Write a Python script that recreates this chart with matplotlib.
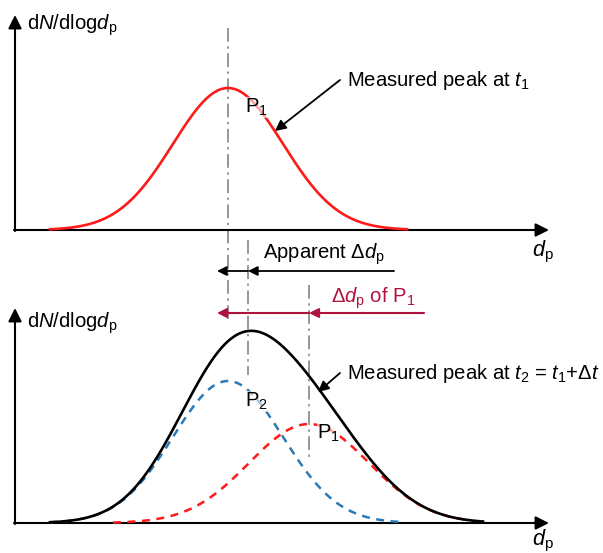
import numpy as np
import matplotlib.pyplot as plt

plt.rcParams['font.family'] = ['Liberation Sans', 'DejaVu Sans']
plt.rcParams['mathtext.fontset'] = 'custom'
plt.rcParams['mathtext.rm'] = 'Liberation Sans'
plt.rcParams['mathtext.it'] = 'Liberation Sans:italic'

# schematic peaks: centre, height, width (canvas units, y measured up from baseline)
p1_t1 = [228, 142, 55]
p2_t2 = [228, 142, 55]
p1_t2 = [309, 99, 60]

# d_p range over which each curve is drawn
p1_t1_range = [50, 407]
p2_t2_range = [50, 400]
p1_t2_range = [113, 470]
sum_range = [50, 483]

top_base = 230
bot_base = 523


def gauss(x, c, h, s):
    return h * np.exp(-(x - c) ** 2 / (2.0 * s * s))


fig = plt.figure(figsize=(6.03, 5.53), dpi=100)
ax = fig.add_axes([0, 0, 1, 1])
ax.set_xlim(0, 603)
ax.set_ylim(553, 0)
ax.axis('off')

fs = 14.6
red = '#ff1a1a'
blue = '#2a7ab8'
dred = '#b0123e'
grey = '#7a7a7a'

# axes with arrow heads
for base, top in [(top_base, 15), (bot_base, 308)]:
    ax.annotate('', xy=(549, base), xytext=(14, base),
                arrowprops=dict(arrowstyle='-|>', mutation_scale=20, lw=1.5,
                                color='black', shrinkA=0, shrinkB=0))
    ax.annotate('', xy=(15, top), xytext=(15, base + 1),
                arrowprops=dict(arrowstyle='-|>', mutation_scale=20, lw=1.5,
                                color='black', shrinkA=0, shrinkB=0))

ylab = r'd$N$/dlog$d_\mathrm{p}$'
ax.text(27, 30, ylab, fontsize=fs, va='baseline')
ax.text(27, 328, ylab, fontsize=fs, va='baseline')
ax.text(532, 256, r'$d_\mathrm{p}$', fontsize=fs + 1, va='baseline')
ax.text(532, 545, r'$d_\mathrm{p}$', fontsize=fs + 1, va='baseline')

# vertical dash-dot guides
for xv, y0, y1 in [(228, 28, 323), (248, 240, 375), (309, 285, 457)]:
    ax.plot([xv, xv], [y0, y1], color=grey, lw=1.1, ls=(0, (9, 3, 1.5, 3)))

# top panel: measured peak at t1
x = np.linspace(p1_t1_range[0], p1_t1_range[1], 400)
ax.plot(x, top_base - gauss(x, *p1_t1), color=red, lw=1.9, zorder=3)

# bottom panel: P2, P1 and measured sum
x = np.linspace(p2_t2_range[0], p2_t2_range[1], 400)
ax.plot(x, bot_base - gauss(x, *p2_t2), color=blue, lw=1.8,
        dashes=(3.2, 2.6), zorder=3)
x = np.linspace(p1_t2_range[0], p1_t2_range[1], 400)
ax.plot(x, bot_base - gauss(x, *p1_t2), color=red, lw=1.8,
        dashes=(3.2, 2.6), zorder=3)
x = np.linspace(sum_range[0], sum_range[1], 400)
ax.plot(x, bot_base - gauss(x, *p2_t2) - gauss(x, *p1_t2),
        color='black', lw=1.9, zorder=4)

# peak labels
lab_box = dict(facecolor='white', edgecolor='none', alpha=0.6, pad=0)
ax.text(245, 113, r'P$_1$', fontsize=fs, va='baseline', bbox=lab_box, zorder=5)
ax.text(245, 407, r'P$_2$', fontsize=fs, va='baseline', bbox=lab_box, zorder=5)
ax.text(317, 439, r'P$_1$', fontsize=fs, va='baseline', bbox=lab_box, zorder=5)

# callouts
ax.text(347, 86, r'Measured peak at $t_1$', fontsize=fs, va='baseline')
ax.annotate('', xy=(275, 131), xytext=(340, 80),
            arrowprops=dict(arrowstyle='-|>', mutation_scale=16, lw=1.3,
                            color='black', shrinkA=0, shrinkB=0))
ax.text(347, 379, r'Measured peak at $t_2$ = $t_1$+Δ$t$', fontsize=fs, va='baseline')
ax.annotate('', xy=(318, 392), xytext=(340, 373),
            arrowprops=dict(arrowstyle='-|>', mutation_scale=16, lw=1.3,
                            color='black', shrinkA=0, shrinkB=0))

# shift arrows
ax.text(263, 259, r'Apparent Δ$d_\mathrm{p}$', fontsize=fs, va='baseline')
ax.annotate('', xy=(248, 271), xytext=(394, 271),
            arrowprops=dict(arrowstyle='-|>', mutation_scale=14, lw=1.3,
                            color='black', shrinkA=0, shrinkB=0))
ax.annotate('', xy=(217, 271), xytext=(248, 271),
            arrowprops=dict(arrowstyle='-|>', mutation_scale=14, lw=1.3,
                            color='black', shrinkA=0, shrinkB=0))

ax.text(331, 303, r'Δ$d_\mathrm{p}$ of P$_1$', fontsize=fs, va='baseline', color=dred)
ax.annotate('', xy=(309, 313), xytext=(424, 313),
            arrowprops=dict(arrowstyle='-|>', mutation_scale=14, lw=1.5,
                            color=dred, shrinkA=0, shrinkB=0))
ax.annotate('', xy=(217, 313), xytext=(309, 313),
            arrowprops=dict(arrowstyle='-|>', mutation_scale=14, lw=1.5,
                            color=dred, shrinkA=0, shrinkB=0))

fig.savefig('out.png', dpi=100)
